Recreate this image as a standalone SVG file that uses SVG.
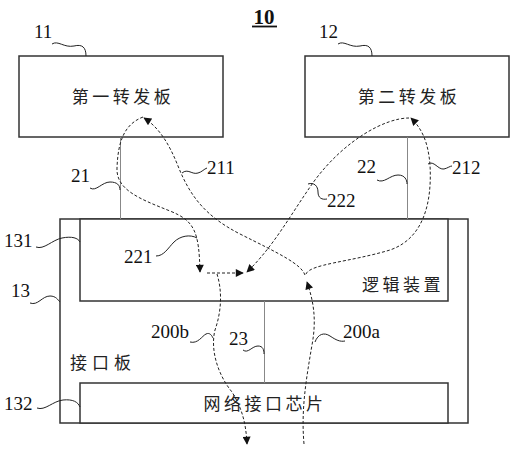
<svg xmlns="http://www.w3.org/2000/svg" width="514" height="450" viewBox="0 0 514 450">
<style>
.box{fill:#fff;stroke:#333;stroke-width:1.5}
.conn{fill:none;stroke:#888;stroke-width:1}
.lead{fill:none;stroke:#222;stroke-width:1}
.dash{fill:none;stroke:#222;stroke-width:1;stroke-dasharray:3,2}
.num{font-family:"Liberation Serif",serif;font-size:19px;fill:#111}
.cn{font-family:"Noto Sans CJK SC",sans-serif;font-size:17px;fill:#222;letter-spacing:3.5px}
</style>
<defs>
<marker id="ah" viewBox="0 0 10 10" refX="9" refY="5" markerWidth="9" markerHeight="8" markerUnits="userSpaceOnUse" orient="auto">
<path d="M0,0 L10,5 L0,10 Z" fill="#111"/>
</marker>
</defs>
<text x="264" y="24" text-anchor="middle" font-family="Liberation Serif,serif" font-size="21" font-weight="bold" fill="#111">10</text>
<line x1="252" y1="26.5" x2="277" y2="26.5" stroke="#111" stroke-width="1.8"/>

<g id="board11">
<rect class="box" x="19" y="56" width="204" height="81"/>
<text class="cn" x="123" y="103" text-anchor="middle">第一转发板</text>
<text class="num" x="34" y="38">11</text>
<path class="lead" d="M52,44 C58,40 64,48 74,46 C82,44 86,47 86,56"/>
</g>
<g id="board12">
<rect class="box" x="305" y="56" width="204" height="81"/>
<text class="cn" x="409" y="103" text-anchor="middle">第二转发板</text>
<text class="num" x="319" y="38">12</text>
<path class="lead" d="M338,44 C344,40 350,48 360,46 C368,44 372,47 372,56"/>
</g>
<g id="board13">
<rect class="box" x="60" y="219" width="408" height="204"/>
<text class="cn" x="70" y="369" style="letter-spacing:5px">接口板</text>
<text class="num" x="11" y="297">13</text>
<path class="lead" d="M30,303 C38,306 42,296 50,296 C56,296 58,300 60,302"/>
</g>
<g id="logic131">
<rect class="box" x="80" y="219" width="368" height="82"/>
<text class="cn" x="403" y="291" text-anchor="middle">逻辑装置</text>
<text class="num" x="4" y="247">131</text>
<path class="lead" d="M36,247 C44,250 52,240 62,238 C72,236 78,238 80,242"/>
</g>
<g id="chip132">
<rect class="box" x="80" y="383" width="368" height="40"/>
<text class="cn" x="265" y="410" text-anchor="middle">网络接口芯片</text>
<text class="num" x="4" y="410">132</text>
<path class="lead" d="M37,408 C45,411 53,401 63,400 C73,399 78,402 80,407"/>
</g>

<g id="connectors">
<line class="conn" x1="120.5" y1="137" x2="120.5" y2="219"/>
<line class="conn" x1="407.5" y1="137" x2="407.5" y2="219"/>
<line class="conn" x1="264.5" y1="301" x2="264.5" y2="383"/>
<text class="num" x="71" y="182">21</text>
<path class="lead" d="M90,188 C96,192 102,182 110,182 C117,182 120,185 120,190"/>
<text class="num" x="357" y="173">22</text>
<path class="lead" d="M377,180 C384,184 390,175 398,175 C405,175 407,180 407,184"/>
<text class="num" x="229" y="345">23</text>
<path class="lead" d="M243,350 C248,354 252,346 258,346 C263,346 264,350 264,354"/>

<path class="dash" d="M304,444 C301,410 306,380 312,345 C317,318 313,300 307,282" marker-end="url(#ah)"/>
<path class="dash" d="M305,275 C301,264 280,254 240,234 C205,216 190,196 178,166 C170,146 160,128 144,118" marker-end="url(#ah)"/>
<path class="dash" d="M143,117 C125,124 118,140 117,168 C116,190 140,199 170,211 C195,221 199,232 200,272" marker-end="url(#ah)"/>
<path class="dash" d="M306,274 C310,264 350,262 390,250 C425,238 432,200 430,165 C428,140 421,128 411,118" marker-end="url(#ah)"/>
<path class="dash" d="M409,118 C385,118 345,140 315,180 C292,212 275,245 247,272" marker-end="url(#ah)"/>
<path class="dash" d="M207,273 L243,273" marker-end="url(#ah)"/>
<path class="dash" d="M217,274 C222,290 222,310 215,330 C210,350 218,375 232,392 C243,410 246,425 247,444" marker-end="url(#ah)"/>

<text class="num" x="207" y="174">211</text>
<path class="lead" d="M182,173 C188,168 192,175 198,173 C202,172 204,169 207,168"/>
<text class="num" x="452" y="174">212</text>
<path class="lead" d="M428,164 C434,160 438,170 444,169 C448,168 450,166 452,166"/>
<text class="num" x="327" y="207">222</text>
<path class="lead" d="M308,184 C314,182 318,186 318,192 C318,198 322,200 327,199"/>
<text class="num" x="124" y="263">221</text>
<path class="lead" d="M156,256 C164,256 168,248 174,242 C180,236 190,234 197,238"/>
<text class="num" x="151" y="338">200b</text>
<path class="lead" d="M190,342 C198,344 202,336 206,334 C210,332 212,336 213,338"/>
<text class="num" x="343" y="338">200a</text>
<path class="lead" d="M315,342 C318,334 324,332 330,336 C336,340 340,342 345,341"/>
</g>
</svg>
